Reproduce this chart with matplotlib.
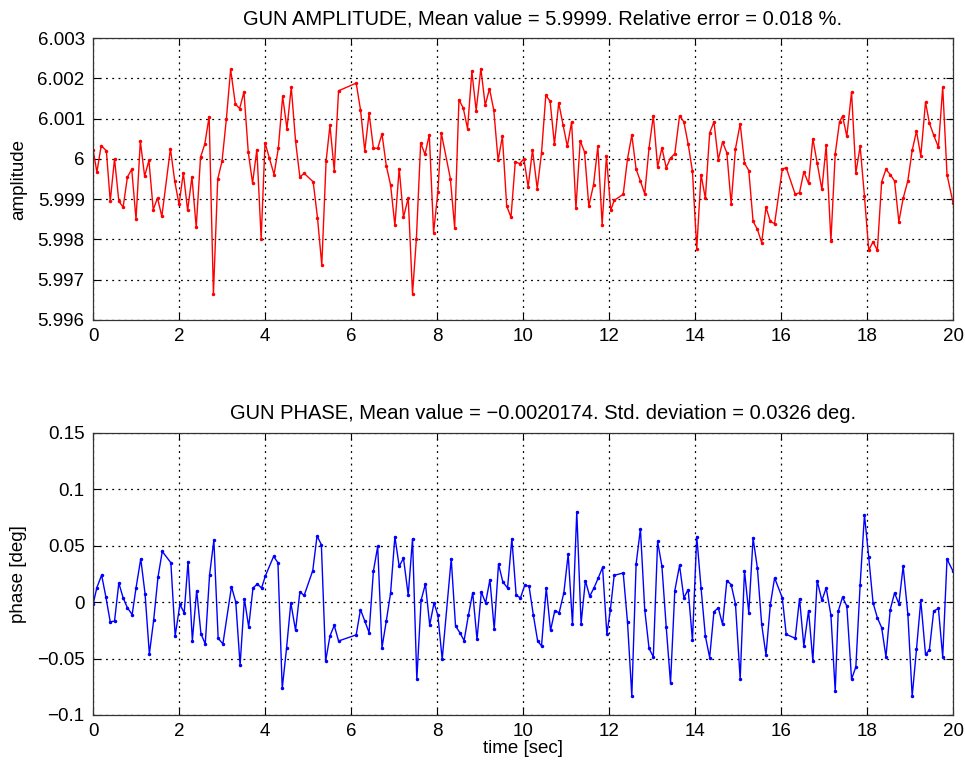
import matplotlib
matplotlib.use("Agg")
import matplotlib.pyplot as plt
from matplotlib.ticker import FuncFormatter

amp_time = [
    0.00, 0.09, 0.19, 0.31, 0.40, 0.50, 0.60, 0.70, 0.80, 0.90,
    1.00, 1.10, 1.20, 1.30, 1.40, 1.50, 1.60, 1.80, 1.90, 2.00,
    2.10, 2.20, 2.30, 2.40, 2.50, 2.60, 2.70, 2.80, 2.90, 3.00,
    3.10, 3.20, 3.31, 3.41, 3.51, 3.61, 3.71, 3.81, 3.91, 4.00,
    4.10, 4.21, 4.31, 4.41, 4.51, 4.61, 4.71, 4.81, 4.91, 5.12,
    5.22, 5.32, 5.42, 5.51, 5.61, 5.71, 6.12, 6.22, 6.32, 6.42,
    6.52, 6.62, 6.72, 6.82, 6.92, 7.02, 7.12, 7.22, 7.33, 7.43,
    7.52, 7.62, 7.72, 7.82, 7.92, 8.02, 8.10, 8.31, 8.41, 8.51,
    8.61, 8.71, 8.81, 8.91, 9.02, 9.12, 9.22, 9.32, 9.42, 9.52,
    9.62, 9.72, 9.82, 9.92, 10.02, 10.12, 10.22, 10.33, 10.43, 10.53,
    10.63, 10.73, 10.83, 10.93, 11.03, 11.13, 11.23, 11.33, 11.43, 11.53,
    11.64, 11.74, 11.84, 11.94, 12.04, 12.12, 12.33, 12.43, 12.53, 12.63,
    12.73, 12.83, 12.93, 13.03, 13.13, 13.23, 13.33, 13.43, 13.53, 13.64,
    13.74, 13.84, 13.94, 14.04, 14.14, 14.24, 14.34, 14.44, 14.54, 14.64,
    14.74, 14.84, 14.94, 15.05, 15.15, 15.25, 15.35, 15.45, 15.55, 15.65,
    15.75, 15.85, 16.03, 16.12, 16.33, 16.43, 16.53, 16.64, 16.74, 16.84,
    16.95, 17.05, 17.16, 17.26, 17.36, 17.43, 17.53, 17.64, 17.74, 17.84,
    17.94, 18.04, 18.14, 18.24, 18.34, 18.44, 18.54, 18.64, 18.74, 18.84,
    18.95, 19.05, 19.15, 19.25, 19.36, 19.45, 19.55, 19.66, 19.76, 19.86,
    20.00,
]
amplitude = [
    6.00023, 5.99967, 6.00033, 6.00020, 5.99895, 6.00000, 5.99895, 5.99880, 5.99955, 5.99974,
    5.99850, 6.00044, 5.99957, 5.99996, 5.99874, 5.99903, 5.99857, 6.00025, 5.99945, 5.99887,
    5.99965, 5.99872, 5.99955, 5.99830, 6.00004, 6.00037, 6.00105, 5.99664, 5.99950, 5.99994,
    6.00098, 6.00222, 6.00136, 6.00125, 6.00166, 6.00017, 5.99940, 6.00023, 5.99802, 6.00040,
    6.00002, 5.99961, 6.00027, 6.00155, 6.00075, 6.00178, 6.00044, 5.99955, 5.99964, 5.99943,
    5.99854, 5.99736, 5.99994, 6.00083, 5.99971, 6.00169, 6.00188, 6.00122, 6.00020, 6.00113,
    6.00027, 6.00026, 6.00062, 5.99983, 5.99935, 5.99835, 5.99976, 5.99855, 5.99903, 5.99665,
    5.99802, 6.00040, 6.00011, 6.00060, 5.99817, 5.99918, 6.00064, 5.99951, 5.99829, 6.00147,
    6.00126, 6.00075, 6.00217, 6.00120, 6.00224, 6.00133, 6.00174, 6.00121, 5.99996, 6.00056,
    5.99883, 5.99855, 5.99993, 5.99988, 6.00000, 5.99930, 6.00023, 5.99926, 6.00015, 6.00158,
    6.00143, 6.00036, 6.00139, 6.00085, 6.00031, 6.00092, 5.99877, 6.00045, 6.00017, 5.99883,
    5.99936, 6.00031, 5.99837, 6.00007, 5.99872, 5.99897, 5.99912, 6.00000, 6.00059, 5.99974,
    5.99945, 5.99913, 6.00027, 6.00107, 5.99980, 6.00027, 5.99978, 6.00002, 6.00013, 6.00107,
    6.00092, 6.00037, 5.99969, 5.99777, 5.99961, 5.99902, 6.00064, 6.00092, 5.99998, 6.00042,
    6.00015, 5.99888, 6.00025, 6.00087, 5.99990, 5.99971, 5.99845, 5.99825, 5.99792, 5.99880,
    5.99845, 5.99839, 5.99975, 5.99978, 5.99912, 5.99916, 5.99968, 5.99939, 6.00050, 5.99990,
    5.99924, 6.00034, 5.99796, 6.00012, 6.00092, 6.00106, 6.00056, 6.00166, 5.99965, 6.00031,
    5.99907, 5.99773, 5.99794, 5.99773, 5.99943, 5.99974, 5.99961, 5.99945, 5.99844, 5.99902,
    5.99946, 6.00021, 6.00069, 6.00007, 6.00141, 6.00089, 6.00059, 6.00029, 6.00178, 5.99961,
    5.99891,
]

phase_time = [
    0.00, 0.09, 0.20, 0.30, 0.40, 0.50, 0.60, 0.70, 0.80, 0.91,
    1.00, 1.11, 1.21, 1.31, 1.41, 1.51, 1.61, 1.81, 1.91, 2.02,
    2.12, 2.21, 2.31, 2.41, 2.51, 2.61, 2.71, 2.81, 2.91, 3.02,
    3.22, 3.32, 3.42, 3.52, 3.62, 3.72, 3.82, 3.92, 4.01, 4.20,
    4.30, 4.40, 4.50, 4.60, 4.71, 4.81, 4.91, 5.11, 5.21, 5.31,
    5.41, 5.51, 5.61, 5.71, 6.12, 6.22, 6.32, 6.42, 6.52, 6.62,
    6.72, 6.82, 6.92, 7.02, 7.12, 7.22, 7.33, 7.43, 7.53, 7.63,
    7.73, 7.83, 7.93, 8.02, 8.12, 8.33, 8.43, 8.53, 8.63, 8.73,
    8.83, 8.93, 9.03, 9.13, 9.23, 9.33, 9.43, 9.53, 9.64, 9.74,
    9.84, 9.94, 10.04, 10.14, 10.24, 10.34, 10.43, 10.54, 10.64, 10.74,
    10.84, 10.95, 11.05, 11.15, 11.25, 11.35, 11.45, 11.55, 11.65, 11.75,
    11.85, 11.95, 12.03, 12.12, 12.33, 12.43, 12.53, 12.63, 12.73, 12.83,
    12.93, 13.03, 13.13, 13.23, 13.33, 13.43, 13.53, 13.64, 13.74, 13.84,
    13.94, 14.04, 14.14, 14.24, 14.34, 14.44, 14.54, 14.64, 14.74, 14.84,
    14.94, 15.05, 15.15, 15.25, 15.35, 15.45, 15.55, 15.65, 15.75, 15.85,
    16.03, 16.12, 16.33, 16.43, 16.53, 16.64, 16.74, 16.84, 16.95, 17.05,
    17.16, 17.26, 17.33, 17.43, 17.53, 17.64, 17.74, 17.84, 17.94, 18.04,
    18.14, 18.24, 18.34, 18.44, 18.54, 18.64, 18.74, 18.84, 18.95, 19.05,
    19.15, 19.25, 19.36, 19.45, 19.55, 19.66, 19.76, 19.86, 20.00,
]
phase = [
    -0.0020, 0.0130, 0.0240, 0.0044, -0.0174, -0.0168, 0.0170, 0.0038, -0.0050, -0.0110,
    0.0126, 0.0385, 0.0074, -0.0460, -0.0160, 0.0220, 0.0450, 0.0350, -0.0300, -0.0020,
    -0.0094, 0.0360, -0.0340, 0.0103, -0.0280, -0.0370, 0.0240, 0.0550, -0.0320, -0.0370,
    0.0138, 0.0000, -0.0560, 0.0030, -0.0220, 0.0126, 0.0160, 0.0126, 0.0235, 0.0406,
    0.0350, -0.0765, -0.0410, -0.0006, -0.0250, 0.0090, 0.0060, 0.0280, 0.0588, 0.0510,
    -0.0520, -0.0300, -0.0206, -0.0344, -0.0290, -0.0065, -0.0168, -0.0270, 0.0274, 0.0494,
    -0.0403, -0.0168, 0.0082, 0.0582, 0.0318, 0.0390, 0.0062, 0.0562, -0.0685, 0.0018,
    0.0162, -0.0203, -0.0006, -0.0118, -0.0506, 0.0385, -0.0210, -0.0270, -0.0340, -0.0115,
    0.0085, -0.0330, 0.0090, -0.0006, 0.0200, -0.0240, 0.0338, 0.0180, 0.0126, 0.0562,
    0.0062, 0.0038, 0.0150, 0.0141, -0.0115, -0.0344, -0.0388, 0.0126, -0.0250, -0.0074,
    -0.0094, 0.0085, 0.0426, -0.0197, 0.0803, -0.0191, 0.0191, 0.0053, 0.0126, 0.0215,
    0.0309, -0.0285, -0.0070, 0.0238, 0.0259, -0.0180, -0.0832, 0.0338, 0.0650, -0.0065,
    -0.0409, -0.0485, 0.0538, 0.0318, -0.0220, -0.0718, 0.0103, 0.0326, 0.0038, 0.0112,
    -0.0338, 0.0582, 0.0126, -0.0300, -0.0491, -0.0085, -0.0050, -0.0197, 0.0191, 0.0156,
    -0.0015, -0.0682, 0.0279, -0.0094, 0.0568, 0.0303, -0.0197, -0.0468, -0.0026, 0.0215,
    0.0038, -0.0285, -0.0320, 0.0032, -0.0388, -0.0074, -0.0520, 0.0191, 0.0015, 0.0126,
    -0.0115, -0.0791, -0.0079, 0.0044, -0.0035, -0.0682, -0.0574, 0.0156, 0.0774, 0.0397,
    -0.0006, -0.0138, -0.0226, -0.0485, -0.0065, 0.0082, -0.0015, 0.0318, -0.0109, -0.0835,
    -0.0418, 0.0015, -0.0462, -0.0424, -0.0079, -0.0056, -0.0485, 0.0382, 0.0274,
]

amp_ticks = [5.996, 5.997, 5.998, 5.999, 6.0, 6.001, 6.002, 6.003]
phase_ticks = [-0.1, -0.05, 0.0, 0.05, 0.1, 0.15]
x_ticks = [0, 2, 4, 6, 8, 10, 12, 14, 16, 18, 20]

plt.rcParams["font.family"] = ["Liberation Sans", "DejaVu Sans"]

fig = plt.figure(figsize=(9.65, 7.65), dpi=100)
ax1 = fig.add_axes([0.0964, 0.5817, 0.8912, 0.3686])
ax2 = fig.add_axes([0.0964, 0.0654, 0.8912, 0.3686])


def style_axes(ax):
    ax.set_xlim(0, 20)
    ax.set_xticks(x_ticks)
    ax.grid(True, color="black", linestyle=(0, (1.5, 3.5)), linewidth=0.9)
    ax.tick_params(direction="in", top=True, right=True, labelsize=13.5, length=5, pad=6)
    for spine in ax.spines.values():
        spine.set_linewidth(0.9)
        spine.set_color("#333333")


# matlab style tick labels with a real minus sign
fmt = FuncFormatter(lambda v, p: f"{v:g}".replace("-", "\u2212"))

ax1.plot(amp_time, amplitude, color="#ff0000", linewidth=1.0, marker=".", markersize=3)
style_axes(ax1)
ax1.set_ylim(5.996, 6.003)
ax1.set_yticks(amp_ticks)
ax1.yaxis.set_major_formatter(fmt)
ax1.set_ylabel("amplitude", fontsize=13.5, labelpad=7)
ax1.set_title("GUN AMPLITUDE, Mean value = 5.9999. Relative error = 0.018 %.",
              fontsize=14.5, x=0.523, pad=10)

ax2.plot(phase_time, phase, color="#0000ff", linewidth=1.0, marker=".", markersize=3)
style_axes(ax2)
ax2.set_ylim(-0.1, 0.15)
ax2.set_yticks(phase_ticks)
ax2.yaxis.set_major_formatter(fmt)
ax2.set_ylabel("phase [deg]", fontsize=13.5, labelpad=7)
ax2.set_xlabel("time [sec]", fontsize=13.5, labelpad=0)
ax2.set_title("GUN PHASE, Mean value = \u22120.0020174. Std. deviation = 0.0326 deg.",
              fontsize=14.5, x=0.523, pad=10)

fig.savefig("out.png", dpi=100)
